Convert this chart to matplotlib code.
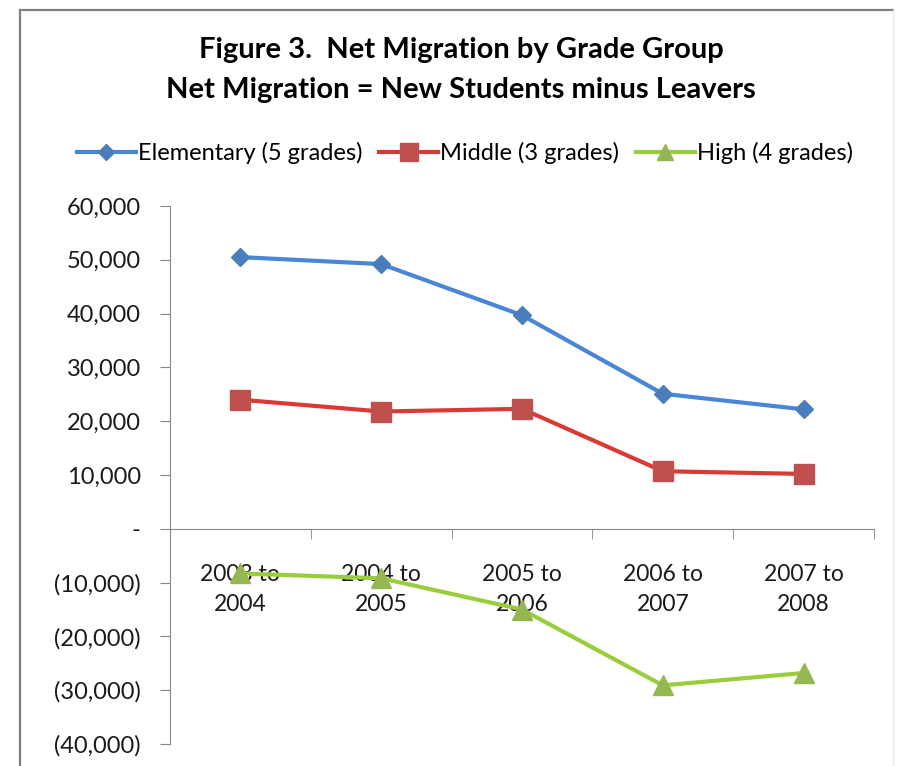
import matplotlib.pyplot as plt
from matplotlib.lines import Line2D
from matplotlib.ticker import FuncFormatter, FixedLocator

plt.rcParams['font.family'] = ['Lato', 'DejaVu Sans']

periods = ['2003 to\n2004', '2004 to\n2005', '2005 to\n2006', '2006 to\n2007', '2007 to\n2008']
elementary = [50500, 49200, 39700, 25100, 22200]
middle = [24000, 21800, 22300, 10700, 10200]
high = [-8300, -9200, -15000, -29100, -26800]

W, H = 899, 766
fig = plt.figure(figsize=(W / 100, H / 100), dpi=100)

# plot area in pixels: x 170..874, y 206..744
ax = fig.add_axes([170 / W, (H - 744) / H, (874 - 170) / W, (744 - 206) / H])

x = range(len(periods))
ax.plot(x, elementary, color='#4A86D6', lw=3, marker='D', ms=9,
        mfc='#4A7EBB', mec='#4A7EBB', label='Elementary (5 grades)')
ax.plot(x, middle, color='#D93A36', lw=3, marker='s', ms=15,
        mfc='#C0504D', mec='#C0504D', label='Middle (3 grades)')
ax.plot(x, high, color='#9ACD3C', lw=3, marker='^', ms=14,
        mfc='#95B752', mec='#95B752', label='High (4 grades)')

ax.set_xlim(-0.5, len(periods) - 0.5)
ax.set_ylim(-40000, 60000)
ax.set_yticks(range(-40000, 60001, 10000))


def fmt(v, pos):
    if v == 0:
        return '-'
    if v < 0:
        return '({:,.0f})'.format(-v)
    return '{:,.0f}'.format(v)


ax.yaxis.set_major_formatter(FuncFormatter(fmt))

for s in ['top', 'right']:
    ax.spines[s].set_visible(False)
ax.spines['left'].set_color('#868686')
ax.spines['bottom'].set_color('#868686')
ax.spines['bottom'].set_position(('data', 0))

ax.set_xticks(list(x))
ax.set_xticklabels(periods, linespacing=1.55)
ax.xaxis.set_minor_locator(FixedLocator([i + 0.5 for i in range(len(periods))]))
ax.tick_params(axis='x', which='major', length=0, pad=25, labelsize=16.5, colors='#1a1a1a')
ax.tick_params(axis='x', which='minor', length=7, color='#868686', direction='out')
ax.tick_params(axis='y', length=7, color='#868686', pad=14, labelsize=17, labelcolor='#1a1a1a')

fig.text(461 / W, 1 - 50 / H, 'Figure 3.  Net Migration by Grade Group',
         ha='center', va='center', fontsize=21, fontweight='bold')
fig.text(461 / W, 1 - 90 / H, 'Net Migration = New Students minus Leavers',
         ha='center', va='center', fontsize=21, fontweight='bold')

fig.legend(loc='center', bbox_to_anchor=(465 / W, 1 - 153 / H), ncol=3, frameon=False,
           fontsize=17, handlelength=2.5, handletextpad=0.1, columnspacing=0.7,
           markerscale=0.85)

# chart frame
fig.add_artist(Line2D([20 / W, 20 / W], [0, 1 - 10 / H], color='#808080', lw=1.6))
fig.add_artist(Line2D([20 / W, 893 / W], [1 - 10 / H, 1 - 10 / H], color='#808080', lw=1.6))
fig.add_artist(Line2D([893 / W, 893 / W], [0, 1 - 10 / H], color='#e6e6e6', lw=1))

fig.savefig('out.png', dpi=100)
